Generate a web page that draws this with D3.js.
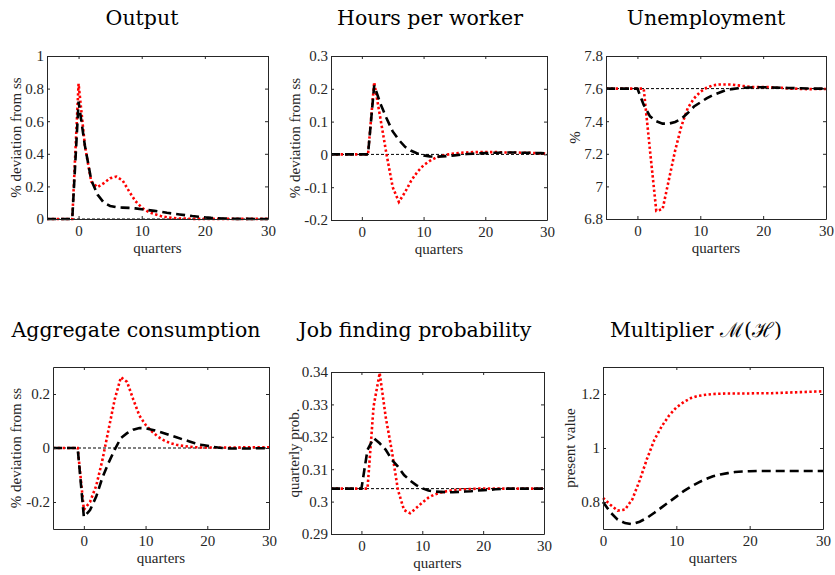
<!DOCTYPE html>
<html>
<head>
<meta charset="utf-8">
<script src="https://cdn.jsdelivr.net/npm/d3@7"></script>
<style>
  body { margin: 0; background: #fff; }
  svg { display: block; }
</style>
</head>
<body>
<svg id="chart" width="835" height="575"></svg>
<script>
const quarters = d3.range(-5, 31)
const quartersPV = d3.range(0, 31)

const outputRed = [0, 0, 0, 0, 0, 0.83, 0.45, 0.23, 0.195, 0.22, 0.25, 0.26, 0.235, 0.17, 0.11, 0.07, 0.045, 0.03, 0.018, 0.01, 0.006, 0.003, 0.002, 0.001, 0.001, 0.001, 0.001, 0.001, 0.001, 0.001, 0.001, 0.001, 0.001, 0.001, 0.001, 0.001]
const outputBlack = [0, 0, 0, 0, 0, 0.72, 0.45, 0.24, 0.15, 0.10, 0.08, 0.072, 0.07, 0.068, 0.065, 0.06, 0.055, 0.05, 0.044, 0.038, 0.033, 0.028, 0.023, 0.018, 0.014, 0.01, 0.007, 0.005, 0.003, 0.002, 0.001, 0.001, 0.001, 0, 0, 0]

const hoursRed = [0, 0, 0, 0, 0, 0, 0, 0.22, 0.11, 0.0, -0.10, -0.145, -0.115, -0.08, -0.053, -0.033, -0.02, -0.01, -0.004, 0.0, 0.003, 0.005, 0.006, 0.007, 0.007, 0.007, 0.007, 0.007, 0.006, 0.006, 0.006, 0.005, 0.005, 0.004, 0.003, 0.002]
const hoursBlack = [0, 0, 0, 0, 0, 0, 0, 0.21, 0.155, 0.11, 0.07, 0.044, 0.023, 0.011, 0.003, -0.003, -0.006, -0.007, -0.006, -0.005, -0.003, -0.001, 0.001, 0.002, 0.003, 0.004, 0.005, 0.005, 0.006, 0.006, 0.006, 0.005, 0.005, 0.004, 0.004, 0.003]

const unempRed = [7.6, 7.6, 7.6, 7.6, 7.6, 7.6, 7.6, 7.22, 6.85, 6.86, 7.04, 7.22, 7.37, 7.48, 7.54, 7.58, 7.605, 7.62, 7.625, 7.625, 7.625, 7.62, 7.615, 7.61, 7.61, 7.61, 7.61, 7.605, 7.605, 7.6, 7.6, 7.598, 7.597, 7.597, 7.598, 7.598]
const unempBlack = [7.6, 7.6, 7.6, 7.6, 7.6, 7.6, 7.5, 7.43, 7.40, 7.385, 7.385, 7.395, 7.415, 7.45, 7.49, 7.515, 7.54, 7.56, 7.575, 7.59, 7.597, 7.602, 7.605, 7.607, 7.608, 7.608, 7.607, 7.606, 7.605, 7.604, 7.603, 7.602, 7.601, 7.6, 7.6, 7.6]

const consRed = [0, 0, 0, 0, 0, -0.228, -0.20, -0.14, -0.045, 0.068, 0.18, 0.262, 0.245, 0.18, 0.12, 0.086, 0.062, 0.042, 0.028, 0.018, 0.012, 0.008, 0.005, 0.003, 0.002, 0.002, 0.002, 0.002, 0.002, 0.002, 0.002, 0.003, 0.003, 0.003, 0.003, 0.003]
const consBlack = [0, 0, 0, 0, 0, -0.255, -0.23, -0.18, -0.11, -0.055, -0.006, 0.037, 0.055, 0.068, 0.074, 0.073, 0.068, 0.062, 0.055, 0.047, 0.04, 0.032, 0.025, 0.018, 0.012, 0.008, 0.004, 0.001, -0.001, -0.002, -0.002, -0.002, -0.002, -0.001, -0.001, 0]

const jobRed = [0.304, 0.304, 0.304, 0.304, 0.304, 0.304, 0.304, 0.3294, 0.3397, 0.326, 0.3156, 0.3036, 0.2974, 0.2964, 0.298, 0.2997, 0.3012, 0.3022, 0.3028, 0.3032, 0.3035, 0.3037, 0.3038, 0.3039, 0.304, 0.304, 0.304, 0.304, 0.304, 0.304, 0.304, 0.304, 0.304, 0.304, 0.304, 0.304]
const jobBlack = [0.304, 0.304, 0.304, 0.304, 0.304, 0.304, 0.316, 0.3196, 0.318, 0.316, 0.3129, 0.3108, 0.3082, 0.3065, 0.3051, 0.3041, 0.3034, 0.3031, 0.303, 0.3029, 0.3029, 0.303, 0.3031, 0.3032, 0.3034, 0.3035, 0.3036, 0.3038, 0.3039, 0.304, 0.304, 0.304, 0.304, 0.304, 0.304, 0.304]

const multRed = [0.815, 0.79, 0.768, 0.772, 0.81, 0.88, 0.96, 1.03, 1.08, 1.12, 1.15, 1.17, 1.185, 1.193, 1.197, 1.2, 1.201, 1.202, 1.202, 1.202, 1.202, 1.203, 1.203, 1.203, 1.204, 1.205, 1.206, 1.207, 1.208, 1.209, 1.21]
const multBlack = [0.8, 0.762, 0.735, 0.722, 0.718, 0.727, 0.741, 0.76, 0.78, 0.8, 0.82, 0.84, 0.857, 0.872, 0.885, 0.895, 0.902, 0.907, 0.911, 0.913, 0.914, 0.915, 0.915, 0.915, 0.915, 0.915, 0.915, 0.915, 0.915, 0.915, 0.915]

const titles = ['Output', 'Hours per worker', 'Unemployment', 'Aggregate consumption', 'Job finding probability', 'Multiplier']
const yLabels = ['% deviation from ss', '% deviation from ss', '%', '% deviation from ss', 'quarterly prob.', 'present value']
const yDomains = [[0, 1], [-0.2, 0.3], [6.8, 7.8], [-0.3, 0.3], [0.29, 0.34], [0.7, 1.3]]
const yTicks = [
  [0, 0.2, 0.4, 0.6, 0.8, 1],
  [-0.2, -0.1, 0, 0.1, 0.2, 0.3],
  [6.8, 7, 7.2, 7.4, 7.6, 7.8],
  [-0.2, 0, 0.2],
  [0.29, 0.3, 0.31, 0.32, 0.33, 0.34],
  [0.8, 1, 1.2]
]
const xTicks = [0, 10, 20, 30]
const steadyStates = [0, 0, 7.6, 0, 0.304, null]

// panel boxes: left, right, top, bottom, title centre, y-label x
const boxes = [
  { l: 47, r: 268, t: 56, b: 219, tx: 142, ty: 25, lx: 16 },
  { l: 331, r: 547, t: 56, b: 220, tx: 430, ty: 25, lx: 295 },
  { l: 606, r: 826, t: 56, b: 219, tx: 706, ty: 25, lx: 575 },
  { l: 53, r: 269, t: 367, b: 529, tx: 136, ty: 337, lx: 16 },
  { l: 331, r: 544, t: 372, b: 534, tx: 415, ty: 337, lx: 294 },
  { l: 603, r: 823, t: 367, b: 529, tx: 696, ty: 337, lx: 570 }
]

const series = [
  [outputRed, outputBlack],
  [hoursRed, hoursBlack],
  [unempRed, unempBlack],
  [consRed, consBlack],
  [jobRed, jobBlack],
  [multRed, multBlack]
]

const axisColor = '#262626'
const tickFont = 'Liberation Serif, Times New Roman, serif'
const titleFont = 'DejaVu Serif, serif'
const svg = d3.select('#chart')

series.forEach((s, i) => {
  const box = boxes[i]
  const xs = i === 5 ? quartersPV : quarters
  const x = d3.scaleLinear().domain(i === 5 ? [0, 30] : [-5, 30]).range([box.l, box.r])
  const y = d3.scaleLinear().domain(yDomains[i]).range([box.b, box.t])
  const g = svg.append('g')

  // steady state reference
  if (steadyStates[i] !== null) {
    g.append('line')
      .attr('x1', x.range()[0]).attr('x2', x.range()[1])
      .attr('y1', y(steadyStates[i])).attr('y2', y(steadyStates[i]))
      .attr('stroke', 'black').attr('stroke-width', 1)
      .attr('stroke-dasharray', '3 2')
  }

  const line = d3.line().x((d, j) => x(xs[j])).y(d => y(d))

  g.append('path')
    .datum(s[0])
    .attr('d', line)
    .attr('fill', 'none')
    .attr('stroke', '#ff0000')
    .attr('stroke-width', 2.6)
    .attr('stroke-dasharray', '2.4 2.4')

  g.append('path')
    .datum(s[1])
    .attr('d', line)
    .attr('fill', 'none')
    .attr('stroke', 'black')
    .attr('stroke-width', 2.6)
    .attr('stroke-dasharray', '9 5')

  // axes with ticks on all four sides, pointing in
  const axB = d3.axisBottom(x).tickValues(xTicks).tickSizeInner(-3).tickSizeOuter(0).tickPadding(6).tickFormat(d3.format('~g'))
  const axT = d3.axisTop(x).tickValues(xTicks).tickSizeInner(-3).tickSizeOuter(0).tickFormat('')
  const axL = d3.axisLeft(y).tickValues(yTicks[i]).tickSizeInner(-3).tickSizeOuter(0).tickPadding(3).tickFormat(d => String(d))
  const axR = d3.axisRight(y).tickValues(yTicks[i]).tickSizeInner(-3).tickSizeOuter(0).tickFormat('')

  g.append('g').attr('transform', `translate(0,${box.b})`).call(axB)
  g.append('g').attr('transform', `translate(0,${box.t})`).call(axT)
  g.append('g').attr('transform', `translate(${box.l},0)`).call(axL)
  g.append('g').attr('transform', `translate(${box.r},0)`).call(axR)

  g.selectAll('.domain').attr('stroke', axisColor).attr('stroke-width', 1)
  g.selectAll('.tick line').attr('stroke', axisColor)
  g.selectAll('.tick text').attr('fill', axisColor)
    .style('font-family', tickFont).style('font-size', '15px')

  g.append('text')
    .attr('x', (box.l + box.r) / 2)
    .attr('y', box.b + 34)
    .attr('text-anchor', 'middle')
    .attr('fill', axisColor)
    .style('font-family', tickFont).style('font-size', '15px')
    .text('quarters')

  g.append('text')
    .attr('transform', `translate(${box.lx},${(box.t + box.b) / 2}) rotate(-90)`)
    .attr('text-anchor', 'middle')
    .attr('dy', '0.3em')
    .attr('fill', axisColor)
    .style('font-family', tickFont).style('font-size', '15px')
    .text(yLabels[i])

  const title = g.append('text')
    .attr('x', box.tx)
    .attr('y', box.ty)
    .attr('text-anchor', 'middle')
    .style('font-family', titleFont).style('font-size', '20.5px')
    .text(titles[i])
  if (i === 5) {
    title.append('tspan').text(' \u2133(\u210B)')
  }
})
</script>
</body>
</html>
